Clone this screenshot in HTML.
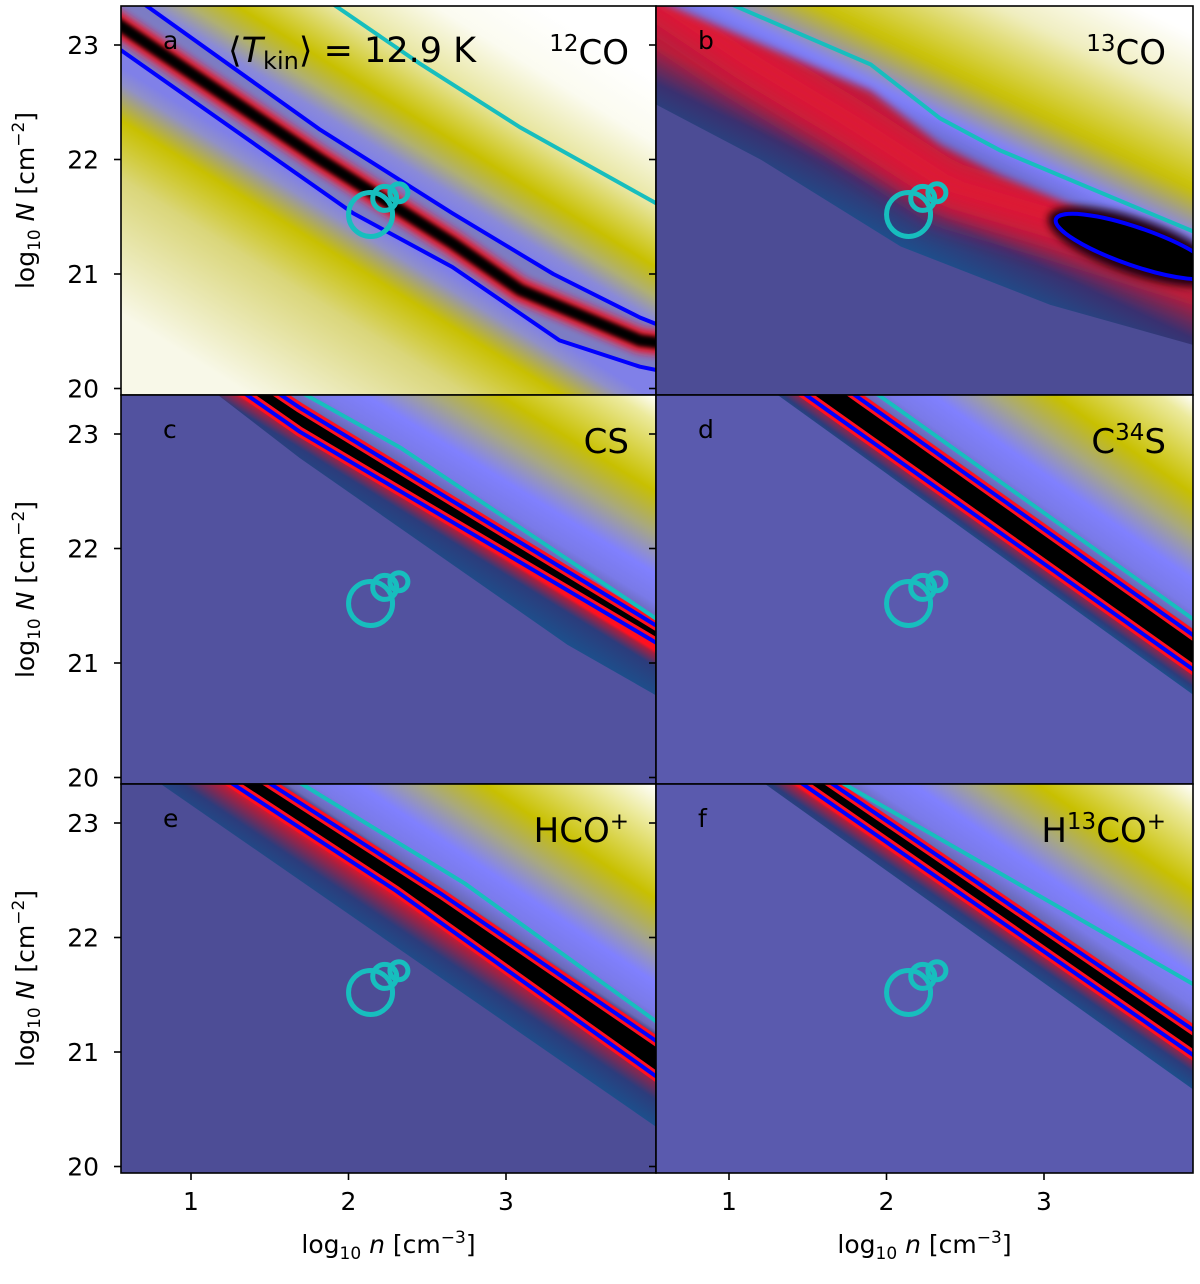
<!DOCTYPE html>
<html><head><meta charset="utf-8">
<style>
html,body{margin:0;padding:0;background:#fff;}
svg text{font-family:"DejaVu Sans","Liberation Sans",sans-serif;fill:#000;}
</style></head>
<body>
<svg id="fig" width="1200" height="1279" viewBox="0 0 1200 1279" xmlns="http://www.w3.org/2000/svg">
<defs>
<filter id="blur2" x="-20%" y="-20%" width="140%" height="140%"><feGaussianBlur stdDeviation="2"/></filter>
<filter id="blur4" x="-20%" y="-20%" width="140%" height="140%"><feGaussianBlur stdDeviation="4"/></filter>
<filter id="blur12" x="-30%" y="-30%" width="160%" height="160%"><feGaussianBlur stdDeviation="12"/></filter>
</defs>
<g id="panels"></g>
<g id="axes"></g>
</svg>
<script>
// ---- data (log10 n, log10 N) ----
const xTicks = [1, 2, 3];
const yTicks = [23, 22, 21, 20];
const circleN = [2.14, 2.23, 2.32];
const circleCol = [21.52, 21.66, 21.71];
const circleR = [22, 12, 9];

const aCenter = [[0.55,23.17],[1.82,22.0],[2.66,21.27],[3.09,20.86],[3.85,20.42],[3.96,20.40]];
const aUpper = [[0.74,23.32],[1.82,22.26],[2.66,21.53],[3.3,21.0],[3.85,20.62],[3.96,20.56]];
const aLower = [[0.55,22.96],[2.03,21.53],[2.66,21.06],[3.34,20.42],[3.85,20.19],[3.96,20.16]];
const aCyan = [[1.93,23.33],[2.45,22.84],[3.09,22.28],[3.95,21.62]];

const bCenter = [[0.75,23.22],[1.13,22.87],[1.77,22.34],[2.40,21.78],[3.04,21.52],[3.95,21.13]];
const bUpper = [[1.04,23.1],[1.9,22.6],[2.34,22.13],[2.72,21.86],[3.95,21.15]];
const bCyan = [[1.04,23.34],[1.9,22.83],[2.34,22.36],[2.72,22.08],[3.95,21.37]];
const bFringe = [[0.536,22.48],[1.2,22.0],[2.09,21.24],[3.04,20.73],[3.95,20.38]];
const bEllipse = [3.58, 21.24];

const cUpper = [[1.55,23.36],[1.69,23.23],[3.95,21.33]];
const cLower = [[1.45,23.25],[1.69,23.02],[3.95,21.18]];
const cCyan = [[1.77,23.31],[2.33,22.88],[3.95,21.39]];
const cFringe = [[1.2,23.31],[1.69,22.79],[3.39,21.16],[3.95,20.72]];

const dUpper = [[1.83,23.31],[3.95,21.24]];
const dLower = [[1.52,23.31],[3.95,20.94]];
const dCyan = [[1.98,23.31],[3.95,21.38]];
const dFringe = [[1.34,23.31],[3.95,20.72]];

const eUpper = [[1.54,23.31],[2.59,22.38],[3.96,21.09]];
const eLower = [[1.30,23.31],[2.30,22.41],[3.96,20.78]];
const eCyan = [[1.74,23.31],[2.74,22.47],[3.96,21.26]];
const eFringe = [[0.84,23.31],[3.96,20.34]];

const fUpper = [[1.69,23.31],[3.95,21.19]];
const fLower = [[1.50,23.31],[3.95,20.97]];
const fCyan = [[1.77,23.31],[3.95,21.59]];
const fFringe = [[1.26,23.31],[3.95,20.67]];

// ---- layout ----
const NS = 'http://www.w3.org/2000/svg';
const PX_X = 157.5, PX_Y = 114.5;
const panels = [
  {id:'a', x0:121, x1:656, y0:6,   y1:395,  one:191, y23:45,  kind:'a', species:'<tspan baseline-shift="super" font-size="23">12</tspan>CO', upper:aUpper, lower:aLower, center:aCenter, cyan:aCyan},
  {id:'b', x0:656, x1:1193, y0:6,  y1:395,  one:729, y23:45,  kind:'b', species:'<tspan baseline-shift="super" font-size="23">13</tspan>CO', center:bCenter, upper:bUpper, cyan:bCyan, fringe:bFringe, purple:'#4c4c95'},
  {id:'c', x0:121, x1:656, y0:395, y1:784,  one:191, y23:434, kind:'n', species:'CS', upper:cUpper, lower:cLower, cyan:cCyan, fringe:cFringe, purple:'#52529f', glow:6},
  {id:'d', x0:656, x1:1193, y0:395,y1:784,  one:729, y23:434, kind:'n', species:'C<tspan baseline-shift="super" font-size="23">34</tspan>S', upper:dUpper, lower:dLower, cyan:dCyan, fringe:dFringe, purple:'#5a5aae', glow:6},
  {id:'e', x0:121, x1:656, y0:784, y1:1173, one:191, y23:823, kind:'n', species:'HCO<tspan baseline-shift="super" font-size="23">+</tspan>', upper:eUpper, lower:eLower, cyan:eCyan, fringe:eFringe, purple:'#4d4d96', glow:22},
  {id:'f', x0:656, x1:1193, y0:784,y1:1173, one:729, y23:823, kind:'n', species:'H<tspan baseline-shift="super" font-size="23">13</tspan>CO<tspan baseline-shift="super" font-size="23">+</tspan>', upper:fUpper, lower:fLower, cyan:fCyan, fringe:fFringe, purple:'#5a5aae', glow:6}
];
const X = (p, v) => p.one + (v - 1) * PX_X;
const Y = (p, v) => p.y23 + (23 - v) * PX_Y;

function el(tag, attrs, parent){
  const e = document.createElementNS(NS, tag);
  for (const k in attrs) e.setAttribute(k, attrs[k]);
  if (parent) parent.appendChild(e);
  return e;
}
function pix(p, arr){
  const pts = arr.map(d => [X(p,d[0]), Y(p,d[1])]);
  const ext = (a, b) => { const dx=a[0]-b[0], dy=a[1]-b[1], L=Math.hypot(dx,dy)||1; return [a[0]+dx/L*300, a[1]+dy/L*300]; };
  return [ext(pts[0], pts[1]), ...pts, ext(pts[pts.length-1], pts[pts.length-2])];
}
function pathD(pts){ return 'M' + pts.map(q => q[0].toFixed(1)+','+q[1].toFixed(1)).join('L'); }
function normalOf(pts){
  const a = pts[1], b = pts[pts.length-2];
  const dx=b[0]-a[0], dy=b[1]-a[1], L=Math.hypot(dx,dy);
  return [dy/L, -dx/L];
}
function midOf(pts){ const i = Math.floor(pts.length/2); return pts[i]; }
let gid = 0;
function grad(defs, start, n, dist, stops){
  const id = 'g' + (gid++);
  const g = el('linearGradient', {id, gradientUnits:'userSpaceOnUse', x1:start[0], y1:start[1], x2:start[0]+n[0]*dist, y2:start[1]+n[1]*dist}, defs);
  stops.forEach(s => el('stop', {offset: Math.min(1, s[0]/dist), 'stop-color': s[1]}, g));
  return 'url(#' + id + ')';
}

const defs = document.querySelector('defs');
const root = document.getElementById('panels');

const UP_N = [[0,'#4a3a78'],[6,'#6a6ab8'],[20,'#7a7ae8'],[45,'#8080ff'],[80,'#a8a880'],[115,'#c8c000'],[175,'#ecea9c'],[225,'#ffffff']];
const UP_A = [[0,'#8080e8'],[14,'#8a8ad8'],[35,'#b0b070'],[60,'#c8c000'],[110,'#e8e6a0'],[165,'#fbfbf0'],[220,'#ffffff']];
const LO_A = [[0,'#8080e8'],[14,'#9090c8'],[45,'#c8c000'],[95,'#dad67a'],[210,'#f8f8e8']];
const UP_B = [[0,'#6a6ac8'],[25,'#8080ff'],[70,'#c8c000'],[150,'#f0eec0'],[210,'#ffffff']];

panels.forEach(p => {
  const g = el('g', {}, root);
  
  
  const cid = 'clip' + p.id;
  const cp = el('clipPath', {id:cid}, defs);
  el('rect', {x:p.x0, y:p.y0, width:p.x1-p.x0, height:p.y1-p.y0}, cp);
  const body = el('g', {'clip-path':'url(#'+cid+')'}, g);
  const TR = [p.x1, p.y0], BL = [p.x0, p.y1];
  const farTR = [p.x1+600, p.y0-600], farBL = [p.x0-600, p.y1+600];

  if (p.kind === 'a') {
    const up = pix(p, p.upper), lo = pix(p, p.lower), ce = pix(p, p.center);
    const n = normalOf(up);
    const mu = midOf(up), ml = midOf(lo);
    const du = (TR[0]-mu[0])*n[0] + (TR[1]-mu[1])*n[1];
    const dl = -((BL[0]-ml[0])*n[0] + (BL[1]-ml[1])*n[1]);
    let r = el('path', {d: pathD([...up, farTR]) + 'Z', fill: grad(defs, mu, n, du, UP_A)}, body);
     
    r = el('path', {d: pathD([...lo, farBL]) + 'Z', fill: grad(defs, ml, [-n[0],-n[1]], dl, LO_A)}, body);
     
    r = el('path', {d: pathD([...up, ...lo.slice().reverse()]) + 'Z', fill:'#7c7cc4'}, body);
     
    r = el('path', {d: pathD(ce), fill:'none', stroke:'#f01828', 'stroke-width':24, filter:'url(#blur4)'}, body);
     
    r = el('path', {d: pathD(ce), fill:'none', stroke:'#000', 'stroke-width':12, filter:'url(#blur2)'}, body);
     
    [up, lo].forEach((L, i) => {
      const b = el('path', {d: pathD(L), fill:'none', stroke:'#0000ff', 'stroke-width':4, 'stroke-linejoin':'round'}, body);
      
      
    });
  } else if (p.kind === 'b') {
    el('rect', {x:p.x0, y:p.y0, width:p.x1-p.x0, height:p.y1-p.y0, fill:p.purple}, body);
    const ce = pix(p, p.center), fr = pix(p, p.fringe), up = pix(p, p.upper);
    const n = normalOf(ce);
    const mf = midOf(fr), mc = midOf(ce);
    const df = -((mf[0]-mc[0])*n[0] + (mf[1]-mc[1])*n[1]);
    let r = el('path', {d: pathD([...fr, farTR]) + 'Z', fill: grad(defs, mc, [-n[0],-n[1]], Math.max(df,10), [[0,'#b0203c'],[df*0.45,'#3a3070'],[df,'#1d4f8c']])}, body);
     
    r = el('path', {d: pathD(ce), fill:'none', stroke:'#c41c3c', 'stroke-width':66, filter:'url(#blur12)'}, body);
     
    r = el('path', {d: pathD(ce), fill:'none', stroke:'#e81830', 'stroke-width':30, filter:'url(#blur12)', opacity:0.8}, body);
     
    const nu = normalOf(up), mu = midOf(up);
    const du = (TR[0]-mu[0])*nu[0] + (TR[1]-mu[1])*nu[1];
    r = el('path', {d: pathD([...up, farTR]) + 'Z', fill: grad(defs, mu, nu, du, UP_B), filter:'url(#blur4)'}, body);
     
    const ex = X(p, bEllipse[0]), ey = Y(p, bEllipse[1]);
    const eg = el('g', {transform:`rotate(19 ${ex} ${ey})`}, body);
    r = el('ellipse', {cx:ex, cy:ey, rx:92, ry:28, fill:'#200008', filter:'url(#blur4)'}, eg);
     
    r = el('ellipse', {cx:ex, cy:ey, rx:84, ry:19, fill:'#000', stroke:'#0000ff', 'stroke-width':4}, eg);
     
  } else {
    el('rect', {x:p.x0, y:p.y0, width:p.x1-p.x0, height:p.y1-p.y0, fill:p.purple}, body);
    const up = pix(p, p.upper), lo = pix(p, p.lower), fr = pix(p, p.fringe);
    const n = normalOf(up);
    const mu = midOf(up), ml = midOf(lo), mf = midOf(fr);
    const du = (TR[0]-mu[0])*n[0] + (TR[1]-mu[1])*n[1];
    const df = -((mf[0]-ml[0])*n[0] + (mf[1]-ml[1])*n[1]);
    const gw = p.glow;
    let r = el('path', {d: pathD([...fr, farTR]) + 'Z', fill: grad(defs, ml, [-n[0],-n[1]], Math.max(df,10), [[0,'#ff1020'],[gw*0.5,'#a82040'],[gw+8,'#2c3c7c'],[df,'#1d4f8c']])}, body);
     
    r = el('path', {d: pathD([...up, farTR]) + 'Z', fill: grad(defs, mu, n, du, UP_N)}, body);
     
    r = el('path', {d: pathD([...up, ...lo.slice().reverse()]) + 'Z', fill:'#000'}, body);
     
    [up, lo].forEach((L, i) => {
      const rr = el('path', {d: pathD(L), fill:'none', stroke:'#ff1020', 'stroke-width':10}, body);
       
    });
    [up, lo].forEach((L, i) => {
      const b = el('path', {d: pathD(L), fill:'none', stroke:'#0000ff', 'stroke-width':4}, body);
      
      
    });
  }
  let cy = el('path', {d: pathD(pix(p, p.cyan)), fill:'none', stroke:'#17bebe', 'stroke-width':4}, body);
   
  circleN.forEach((v, i) => {
    const c = el('circle', {cx:X(p, v), cy:Y(p, circleCol[i]), r:circleR[i], fill:'none', stroke:'#17bebe', 'stroke-width':5}, body);
    
    
  });
  const fr = el('rect', {x:p.x0, y:p.y0, width:p.x1-p.x0, height:p.y1-p.y0, fill:'none', stroke:'#000', 'stroke-width':1.6}, g);
   
  let t = el('text', {x:p.x0+42, y:p.y0+43, 'font-size':25}, g);
  t.textContent = p.id;
   
  t = el('text', {x:p.x1-27, y:p.y0+58, 'font-size':34, 'text-anchor':'end'}, g);
  t.innerHTML = p.species;
   
  yTicks.forEach(v => {
    const yy = Y(p, v);
    const tk = el('line', {x1:p.x0-7, x2:p.x0, y1:yy, y2:yy, stroke:'#000', 'stroke-width':1.6}, g);
     
    if (p.x0 < 200) {
      const lb = el('text', {x:p.x0-22, y:yy+9, 'font-size':25, 'text-anchor':'end'}, g);
      lb.textContent = v;
       
    }
  });
  if (p.y1 > 1000) {
    xTicks.forEach(v => {
      const xx = X(p, v);
      const tk = el('line', {x1:xx, x2:xx, y1:p.y1, y2:p.y1+7, stroke:'#000', 'stroke-width':1.6}, g);
       
      const lb = el('text', {x:xx, y:p.y1+37, 'font-size':25, 'text-anchor':'middle'}, g);
      lb.textContent = v;
       
    });
    const xl = el('text', {x:(p.x0+p.x1)/2, y:p.y1+80, 'font-size':25, 'text-anchor':'middle'}, g);
    xl.innerHTML = 'log<tspan font-size="17" dy="6">10</tspan><tspan dy="-6" font-style="italic"> n</tspan> [cm<tspan baseline-shift="super" font-size="17">−3</tspan>]';
     
  }
  if (p.x0 < 200) {
    const cyy = (p.y0+p.y1)/2;
    const yl = el('text', {x:0, y:0, 'font-size':25, 'text-anchor':'middle', transform:`translate(34 ${cyy}) rotate(-90)`}, g);
    yl.innerHTML = 'log<tspan font-size="17" dy="6">10</tspan><tspan dy="-6" font-style="italic"> N</tspan> [cm<tspan baseline-shift="super" font-size="17">−2</tspan>]';
     
  }
  if (p.id === 'a') {
    const tk = el('text', {x:228, y:62, 'font-size':35}, g);
    tk.innerHTML = '⟨<tspan font-style="italic">T</tspan><tspan font-size="24" dy="7">kin</tspan><tspan dy="-7">⟩ = 12.9 K</tspan>';
     
  }
});
</script>
</body></html>
